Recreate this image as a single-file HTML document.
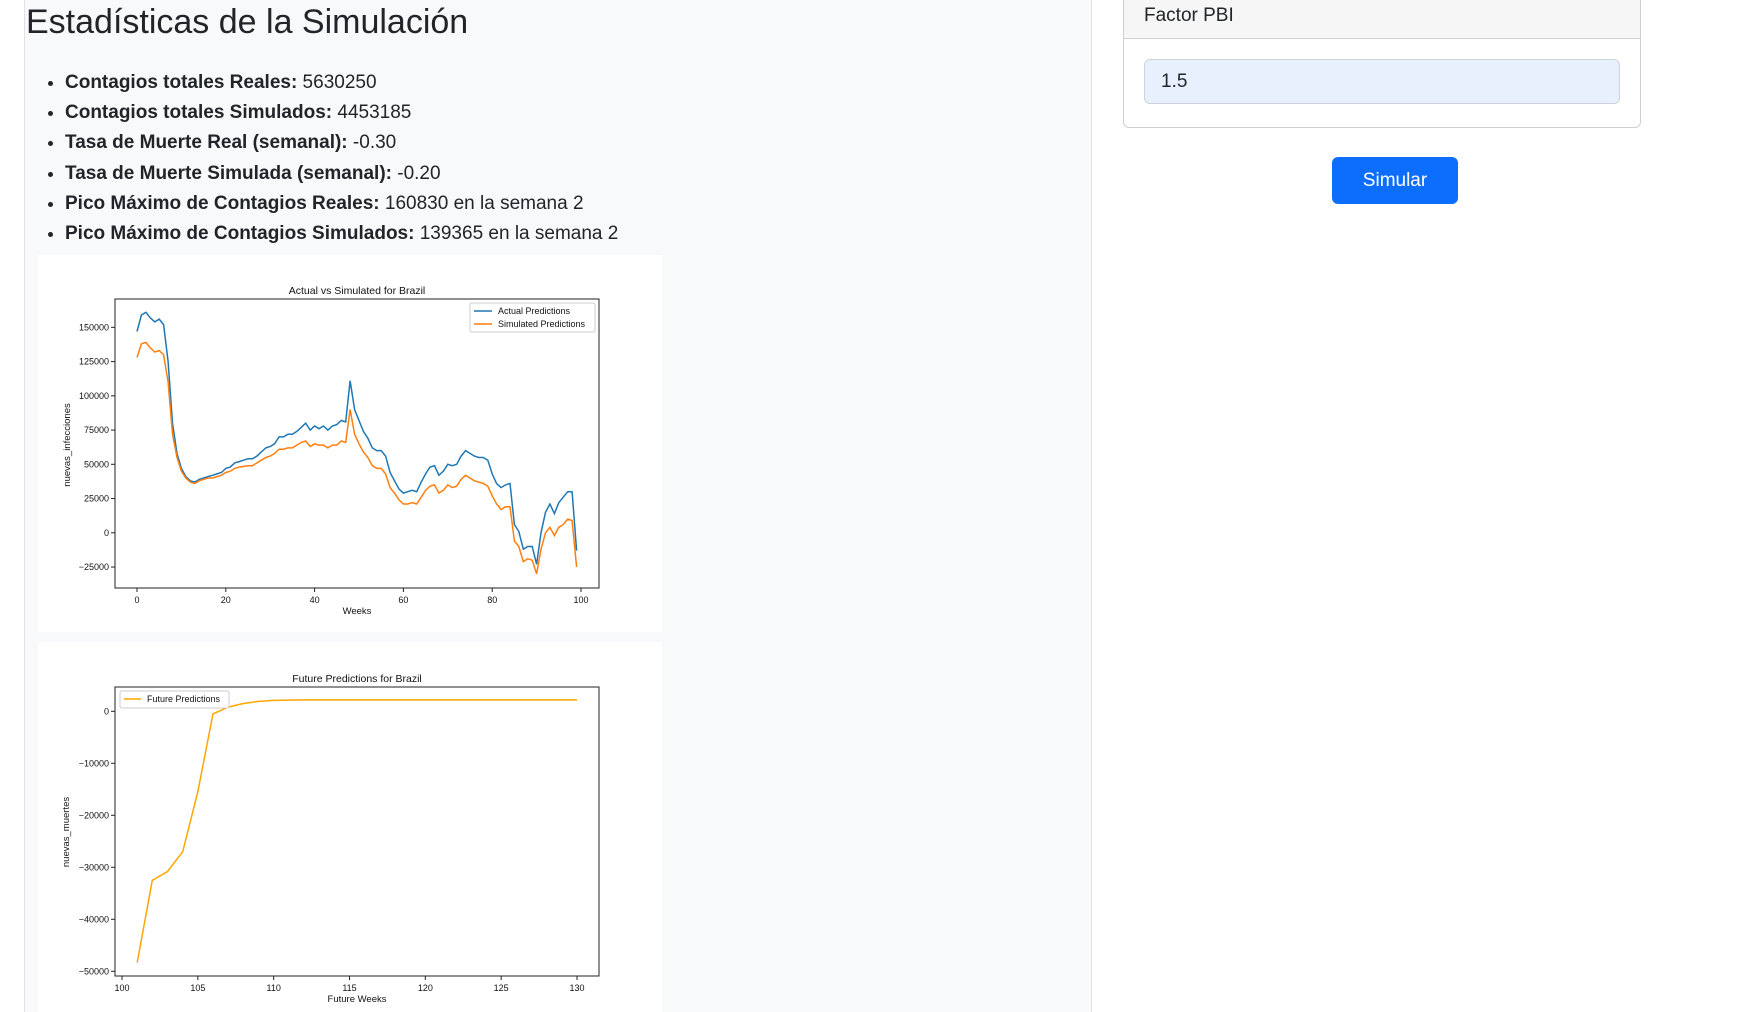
<!DOCTYPE html>
<html><head><meta charset="utf-8">
<style>
html,body{margin:0;padding:0;width:1747px;height:1012px;overflow:hidden;background:#fff;font-family:"Liberation Sans",sans-serif;color:#212529}
#panel{position:absolute;left:24px;top:0;width:1066px;height:1012px;background:#f8f9fa;border-left:1px solid #dee2e6;border-right:1px solid #dee2e6}
h2{position:absolute;left:1px;top:3px;margin:0;font-size:34px;font-weight:500}
ul{position:absolute;left:0;top:68px;margin:0;padding-left:40px;font-size:19px;line-height:30.2px}
ul b{font-weight:bold}
.card{position:absolute;left:13px;width:624px;background:#fff}
#rcard{position:absolute;left:1123px;top:-10px;width:516px;height:136px;border:1px solid #d0d0d0;border-radius:6px;background:#fff}
#rhead{height:47px;background:#f6f6f6;border-bottom:1px solid #d0d0d0;font-size:19px}
#rhead span{position:absolute;left:20px;top:14px}
#inp{position:absolute;left:20px;top:68px;width:476px;height:45px;background:#e8f0fe;border:1px solid #ced4da;border-radius:6px;font-size:19px;box-sizing:border-box;padding:11px 16px}
#btn{position:absolute;left:1332px;top:157px;width:126px;height:47px;background:#0d6efd;border-radius:6px;color:#fff;font-size:19px;text-align:center;line-height:47px}
svg text{font-family:"Liberation Sans",sans-serif;fill:#111}
</style></head><body>
<div id="panel">
<h2>Estadísticas de la Simulación</h2>
<ul>
<li><b>Contagios totales Reales:</b> 5630250</li>
<li><b>Contagios totales Simulados:</b> 4453185</li>
<li><b>Tasa de Muerte Real (semanal):</b> -0.30</li>
<li><b>Tasa de Muerte Simulada (semanal):</b> -0.20</li>
<li><b>Pico Máximo de Contagios Reales:</b> 160830 en la semana 2</li>
<li><b>Pico Máximo de Contagios Simulados:</b> 139365 en la semana 2</li>
</ul>
<div class="card" style="top:255px;height:377px"></div>
<div class="card" style="top:642px;height:370px"></div>
</div>
<div id="rcard">
<div id="rhead"><span>Factor PBI</span></div>
<div id="inp">1.5</div>
</div>
<div id="btn">Simular</div>
<svg id="svg" width="1747" height="1012" style="position:absolute;left:0;top:0"></svg>
<script>
const actualVals=[147,159,161,157,154,156,152,125,80,58,47,41,38,37,39,40,41,42,43,44,47,48,51,52,53,54,54,56,59,62,63,65,70,70,72,72,74,77,80,75,78,76,78,75,78,79,82,81,111,90,82,74,69,62,60,60,56,44,38,32,29,30,31,30,37,43,48,49,42,45,50,49,50,56,60,58,56,55,55,53,43,36,33,35,36,6,1,-12,-10,-10,-23,0,15,21,14,22,26,30,30,-13];
const simulatedVals=[128,138,139,135,132,133,130,110,72,55,45,40,37,36,38,39,40,40,41,42,44,45,47,48,48.5,49,49,51,53,55,56,58,61,61,62,62,64,66,67,63,65,64,64,62,64,64,67,66,90,72,65,59,55,49,47,47,43,33,29,24,21,21,22,21,26,31,34,35,29,31,35,33,34,39,42,40,38,37,36,34,27,21,17,19,19,-6,-10,-21,-19,-20,-30,-12,0,4,-2,4,6,10,9,-25];
const futureWeeks=[101,102,103,104,105,106,107,108,109,110,111,112,113,114,115,116,117,118,119,120,121,122,123,124,125,126,127,128,129,130];
const futureVals=[-48300,-32500,-30800,-27000,-15500,-500,800,1500,1900,2100,2150,2200,2200,2200,2200,2200,2200,2200,2200,2200,2200,2200,2200,2200,2200,2200,2200,2200,2200,2200];
const xTicks1=[0,20,40,60,80,100];
const yTicks1=[-25000,0,25000,50000,75000,100000,125000,150000];
const xTicks2=[100,105,110,115,120,125,130];
const yTicks2=[-50000,-40000,-30000,-20000,-10000,0];

const svg=document.getElementById('svg');
const NS='http://www.w3.org/2000/svg';
function mk(t,a,txt){const e=document.createElementNS(NS,t);for(const k in a)e.setAttribute(k,a[k]);if(txt!==undefined)e.textContent=txt;svg.appendChild(e);return e;}

const x1=v=>137+(v-0)*(581-137)/100;
const y1=v=>532.8-v*(239.7/175000);
function axes(top,bottom,name){
  const r=mk('rect',{x:115,y:top,width:484,height:bottom-top,fill:'none',stroke:'#222','stroke-width':1});
  
  
}
axes(299,588,'chart1-axes');
xTicks1.forEach(t=>{const x=x1(t);mk('line',{x1:x,x2:x,y1:588,y2:592,stroke:'#222'});
 const e=mk('text',{x:x,y:603,'font-size':9,'text-anchor':'middle'},String(t));
 
 });
yTicks1.forEach(t=>{const y=y1(t);mk('line',{x1:111,x2:115,y1:y,y2:y,stroke:'#222'});
 const e=mk('text',{x:109,y:y+3,'font-size':9,'text-anchor':'end'},t<0?'\u2212'+(-t):String(t));
 
 });
function line(xs,ys,fx,fy,col,name){
  const p=xs.map((x,i)=>(i?'L':'M')+fx(x).toFixed(1)+','+fy(ys[i]).toFixed(1)).join('');
  const e=mk('path',{d:p,fill:'none',stroke:col,'stroke-width':1.5});
  
  
}
const idx=actualVals.map((_,i)=>i);
line(idx,actualVals.map(v=>v*1000),x1,y1,'#1f77b4','actual-line');
line(idx,simulatedVals.map(v=>v*1000),x1,y1,'#ff7f0e','simulated-line');
let t=mk('text',{x:357,y:294,'font-size':10.5,'text-anchor':'middle'},'Actual vs Simulated for Brazil');

t=mk('text',{x:357,y:614,'font-size':9.5,'text-anchor':'middle'},'Weeks');

t=mk('text',{x:0,y:0,'font-size':9.5,'text-anchor':'middle',transform:'translate(70,445) rotate(-90)'},'nuevas_infecciones');

let lg=mk('rect',{x:470,y:303,width:125,height:29,fill:'#fff',stroke:'#ccc',rx:2});

mk('line',{x1:474,x2:492,y1:311,y2:311,stroke:'#1f77b4','stroke-width':1.5});
mk('text',{x:498,y:314,'font-size':9},'Actual Predictions');
mk('line',{x1:474,x2:492,y1:324,y2:324,stroke:'#ff7f0e','stroke-width':1.5});
mk('text',{x:498,y:327,'font-size':9},'Simulated Predictions');

const x2=v=>122+(v-100)*(577-122)/30;
const y2=v=>711.3-v*(260/50000);
axes(687,976,'chart2-axes');
xTicks2.forEach(tk=>{const x=x2(tk);mk('line',{x1:x,x2:x,y1:976,y2:980,stroke:'#222'});
 const e=mk('text',{x:x,y:991,'font-size':9,'text-anchor':'middle'},String(tk));
 
 });
yTicks2.forEach(tk=>{const y=y2(tk);mk('line',{x1:111,x2:115,y1:y,y2:y,stroke:'#222'});
 const e=mk('text',{x:109,y:y+3,'font-size':9,'text-anchor':'end'},tk<0?'\u2212'+(-tk):String(tk));
 
 });
line(futureWeeks,futureVals,x2,y2,'#ffa500','future-line');
t=mk('text',{x:357,y:682,'font-size':10.5,'text-anchor':'middle'},'Future Predictions for Brazil');

t=mk('text',{x:357,y:1002,'font-size':9.5,'text-anchor':'middle'},'Future Weeks');

t=mk('text',{x:0,y:0,'font-size':9.5,'text-anchor':'middle',transform:'translate(69,832) rotate(-90)'},'nuevas_muertes');

lg=mk('rect',{x:120,y:691,width:109,height:17,fill:'#fff',stroke:'#ccc',rx:2});

mk('line',{x1:124,x2:141,y1:699,y2:699,stroke:'#ffa500','stroke-width':1.5});
mk('text',{x:147,y:702,'font-size':9},'Future Predictions');
</script>
</body></html>
